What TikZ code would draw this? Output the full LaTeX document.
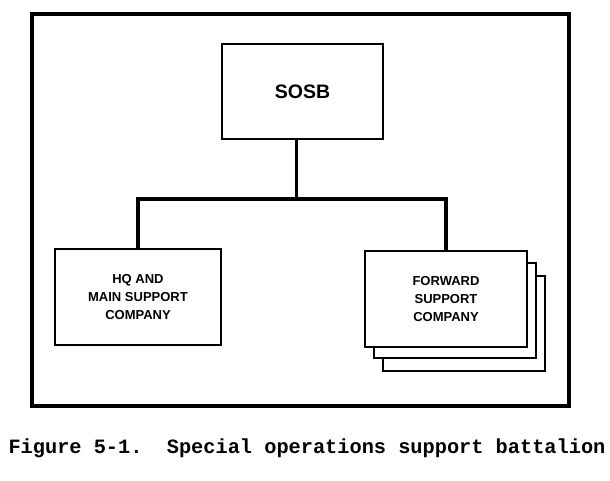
\documentclass[tikz,border=0pt]{standalone}
\usepackage{fontspec}
\setmainfont{Liberation Sans}
\newfontfamily\capfont{Liberation Mono}
\tikzset{
  unitbox/.style={draw, line width=2pt, fill=white, align=center,
    font=\bfseries\fontsize{13}{18}\selectfont, inner sep=0pt},
  orgline/.style={line width=4.5pt, line cap=butt},
}
\begin{document}
\begin{tikzpicture}[x=1pt, y=-1pt]
  \useasboundingbox (0, 0) rectangle (610, 480) ;
  \draw[line width=4pt] (32, 14) rectangle (569, 406) ;
  \node[unitbox, minimum width=161pt, minimum height=95pt,
    font=\bfseries\fontsize{19.5}{22}\selectfont] (sosb) at (302.5, 91.5) {SOSB} ;
  \node[unitbox, minimum width=166pt, minimum height=96pt] (hq) at (138, 297)
    {HQ AND\\MAIN SUPPORT\\COMPANY} ;
  % stacked forward support companies
  \node[unitbox, minimum width=162pt, minimum height=95pt] (fsc3) at (463.5, 323) {} ;
  \node[unitbox, minimum width=162pt, minimum height=95pt] (fsc2) at (455, 310.5) {} ;
  \node[unitbox, minimum width=162pt, minimum height=96pt] (fsc) at (446, 299)
    {FORWARD\\SUPPORT\\COMPANY} ;
  \coordinate (hub) at (296, 199) ;
  \draw[line width=3pt] (sosb.south -| hub) -- (hub) ;
  \draw[orgline] (hq.north) |- (hub) -| (fsc.north) ;
  \node[anchor=base, font=\capfont\bfseries\fontsize{20.3}{24}\selectfont] (cap) at (307, 453)
    {Figure 5-1.\ \ Special operations support battalion} ;
\end{tikzpicture}
\end{document}
